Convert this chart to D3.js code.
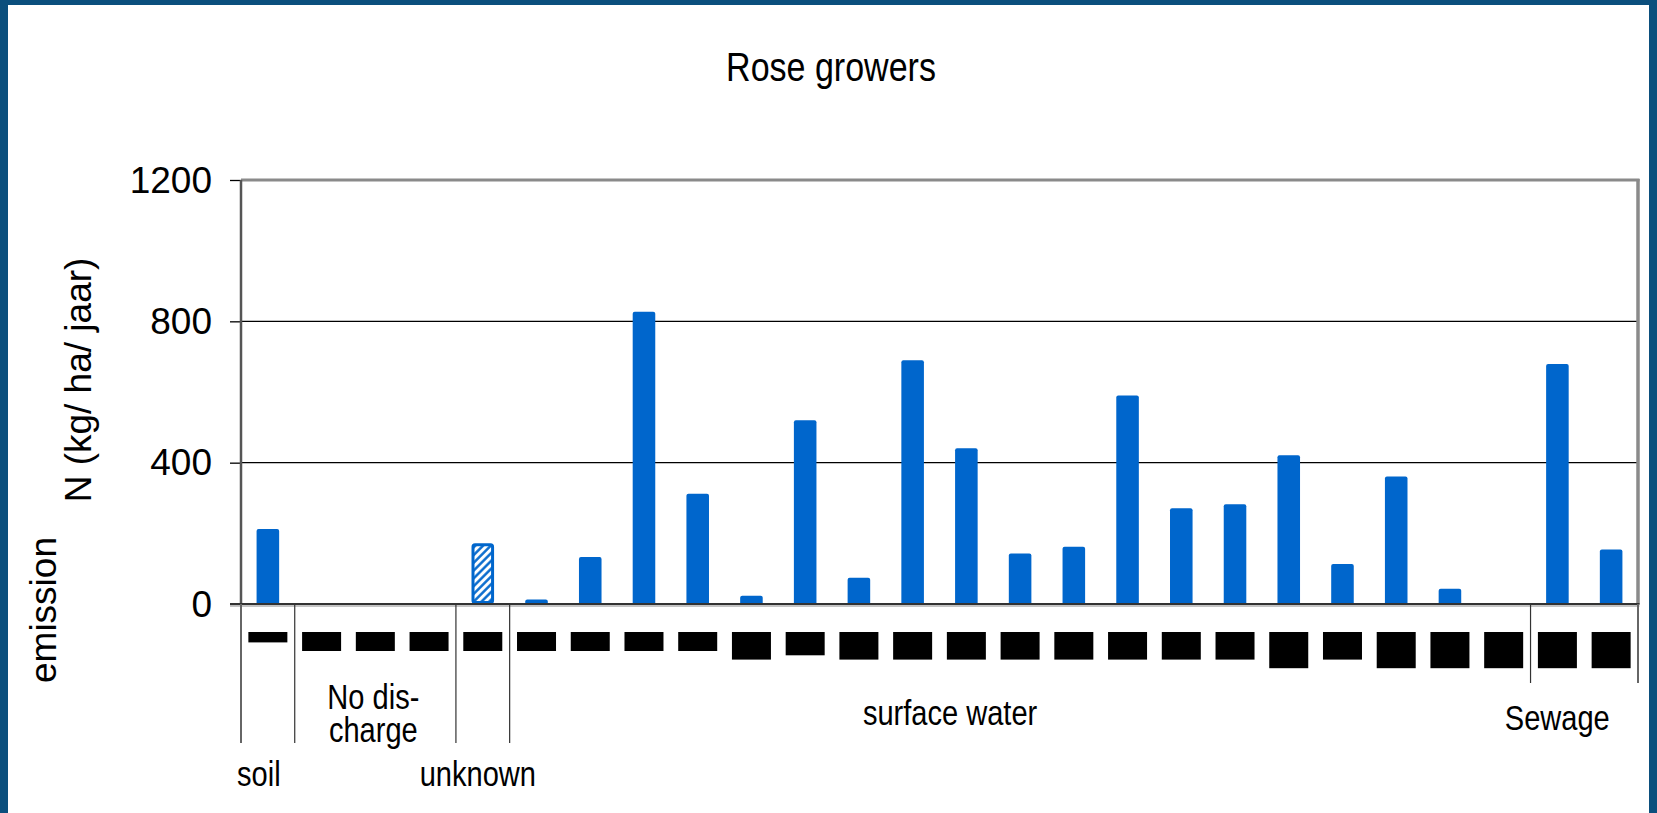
<!DOCTYPE html>
<html>
<head>
<meta charset="utf-8">
<script src="https://cdn.jsdelivr.net/npm/d3@7"></script>
<style>
  html, body { margin: 0; padding: 0; background: #fff; }
  svg { display: block; }
</style>
</head>
<body>
<svg id="chart" width="1657" height="813"></svg>
<script>
// Nitrogen emission per rose grower (kg/ha/year), grouped by discharge route
const chartTitle = "Rose growers";
const groupNames = ["soil", "No dis-|charge", "unknown", "surface water", "Sewage"];
const groupSizes = [1, 3, 1, 19, 2];
const emission = [212, null, null, null, 172,
  13, 133, 827, 312, 23, 520, 74, 690, 441, 143, 162, 590, 271, 282, 421, 113, 361, 43, 0,
  679, 154];
const estimated = [false, false, false, false, true,
  false, false, false, false, false, false, false, false, false, false, false, false, false, false, false, false, false, false, false,
  false, false];
// lines of (masked) grower label under each bar
const labelRows = [1, 2, 2, 2, 2,
  2, 2, 2, 2, 3, 2.5, 3, 3, 3, 3, 3, 3, 3, 3, 4, 3, 4, 4, 4,
  4, 4];
const yTicks = [0, 400, 800, 1200];
const yGrid = [400, 800];

const W = 1657, H = 813;
const plot = { left: 241, right: 1638, top: 180, bottom: 604 };
const sans = "'Liberation Sans', Arial, sans-serif";
const narrowScale = 0.83;   // condensed look for title and group labels

const svg = d3.select("#chart");

// page frame
svg.append("rect").attr("width", W).attr("height", H).attr("fill", "#0b4f7d");
svg.append("rect").attr("x", 8).attr("y", 5).attr("width", W - 16).attr("height", H - 5).attr("fill", "#fff");

const categories = emission.map((_, i) => "grower" + (i + 1));
const x = d3.scaleBand().domain(categories).range([plot.left, plot.right]).padding(0);
const y = d3.scaleLinear().domain([0, 1200]).range([plot.bottom, plot.top]);
const bw = x.bandwidth() * 0.42;
const edgeX = k => k >= categories.length ? plot.right : x(categories[k]);

// condensed text helper
function narrowText(sel, cx, cy, size, lines, lineGap) {
  const g = sel.append("g").attr("transform", `translate(${cx},${cy}) scale(${narrowScale},1)`);
  const t = g.append("text").attr("text-anchor", "middle")
    .style("font-family", sans).style("font-size", size + "px").attr("fill", "#000");
  lines.forEach((line, li) => {
    t.append("tspan").attr("x", 0).attr("y", li * lineGap).text(line);
  });
  return g;
}

// hatch for estimated values
const defs = svg.append("defs");
const pat = defs.append("pattern").attr("id", "hatch")
  .attr("patternUnits", "userSpaceOnUse").attr("width", 5.5).attr("height", 5.5)
  .attr("patternTransform", "rotate(45)");
pat.append("rect").attr("width", 5.5).attr("height", 5.5).attr("fill", "#fff");
pat.append("line").attr("x1", 1.4).attr("x2", 1.4).attr("y1", 0).attr("y2", 5.5)
  .attr("stroke", "#0066cc").attr("stroke-width", 2.4);

// title
narrowText(svg, 831, 81, 41, [chartTitle], 0);

// gridlines
svg.append("g").selectAll("line").data(yGrid).join("line")
  .attr("x1", plot.left).attr("x2", plot.right)
  .attr("y1", d => y(d)).attr("y2", d => y(d))
  .attr("stroke", "#000").attr("stroke-width", 1.3);

// bars
const barData = emission.map((v, i) => ({ cat: categories[i], v, est: estimated[i] }))
  .filter(d => d.v !== null && d.v > 0);
svg.append("g").selectAll("rect").data(barData).join("rect")
  .attr("x", d => x(d.cat) + (x.bandwidth() - bw) / 2 + (d.est ? 1.5 : 0))
  .attr("width", d => d.est ? bw - 3 : bw)
  .attr("y", d => y(d.v) + (d.est ? 1.5 : 0))
  .attr("height", d => d.est ? plot.bottom - y(d.v) - 3 : plot.bottom - y(d.v) + 1)
  .attr("rx", 2)
  .attr("fill", d => d.est ? "url(#hatch)" : "#0066cc")
  .attr("stroke", d => d.est ? "#0066cc" : "none")
  .attr("stroke-width", 3);

// y axis
const yAxis = svg.append("g").attr("transform", `translate(${plot.left},0)`)
  .call(d3.axisLeft(y).tickValues(yTicks).tickSize(11).tickPadding(18).tickFormat(d3.format("d")));
yAxis.select(".domain").remove();
yAxis.selectAll(".tick line").attr("stroke", "#000").attr("stroke-width", 1.3);
yAxis.selectAll(".tick text").style("font-family", sans).style("font-size", "37px")
  .attr("fill", "#000").attr("dy", "0.33em");

// plot frame
svg.append("line").attr("x1", plot.left).attr("x2", plot.right + 1.5)
  .attr("y1", plot.top).attr("y2", plot.top).attr("stroke", "#8a8a8a").attr("stroke-width", 3);
svg.append("line").attr("x1", plot.right).attr("x2", plot.right)
  .attr("y1", plot.top - 1).attr("y2", plot.bottom).attr("stroke", "#8a8a8a").attr("stroke-width", 3.5);
svg.append("line").attr("x1", plot.left).attr("x2", plot.left)
  .attr("y1", plot.top).attr("y2", plot.bottom).attr("stroke", "#555").attr("stroke-width", 2.5);
svg.append("line").attr("x1", plot.left - 11).attr("x2", plot.right + 1.5)
  .attr("y1", plot.bottom + 2).attr("y2", plot.bottom + 2).attr("stroke", "#b0b0b0").attr("stroke-width", 1.5);
svg.append("line").attr("x1", plot.left - 11).attr("x2", plot.right + 1.5)
  .attr("y1", plot.bottom).attr("y2", plot.bottom).attr("stroke", "#333").attr("stroke-width", 2.2);

// axis title
svg.append("text").attr("transform", "translate(91,380) rotate(-90)").attr("text-anchor", "middle")
  .style("font-family", sans).style("font-size", "37px").attr("fill", "#000")
  .text("N (kg/ ha/ jaar)");
svg.append("text").attr("transform", "translate(56,610) rotate(-90)").attr("text-anchor", "middle")
  .style("font-family", sans).style("font-size", "37px").attr("fill", "#000")
  .text("emission");

// masked grower labels
const boxTop = 632;
svg.append("g").selectAll("rect").data(categories).join("rect")
  .attr("x", d => x(d) + (x.bandwidth() - 39) / 2)
  .attr("width", 39)
  .attr("y", boxTop)
  .attr("height", (d, i) => 1.8 + 8.6 * labelRows[i])
  .attr("fill", "#000");

// group separators
const bounds = [0, ...d3.cumsum(groupSizes)];
const sepEnds = [743, 743, 743, 743, 683, 683];
svg.append("g").selectAll("line").data(bounds).join("line")
  .attr("x1", d => edgeX(d)).attr("x2", d => edgeX(d))
  .attr("y1", plot.bottom).attr("y2", (d, i) => sepEnds[i])
  .attr("stroke", (d, i) => (i === 0 || i === bounds.length - 1) ? "#666" : "#333")
  .attr("stroke-width", (d, i) => (i === 0 || i === bounds.length - 1) ? 2 : 1.2);

// group labels
const labelOffsets = [{ dx: -9, y: 786 }, { dx: -2, y: 709 }, { dx: -5, y: 786 }, { dx: -70, y: 725 }, { dx: -27, y: 730 }];
groupNames.forEach((name, gi) => {
  const cx = (edgeX(bounds[gi]) + edgeX(bounds[gi + 1])) / 2 + labelOffsets[gi].dx;
  narrowText(svg, cx, labelOffsets[gi].y, 35, name.split("|"), 33);
});
</script>
</body>
</html>
